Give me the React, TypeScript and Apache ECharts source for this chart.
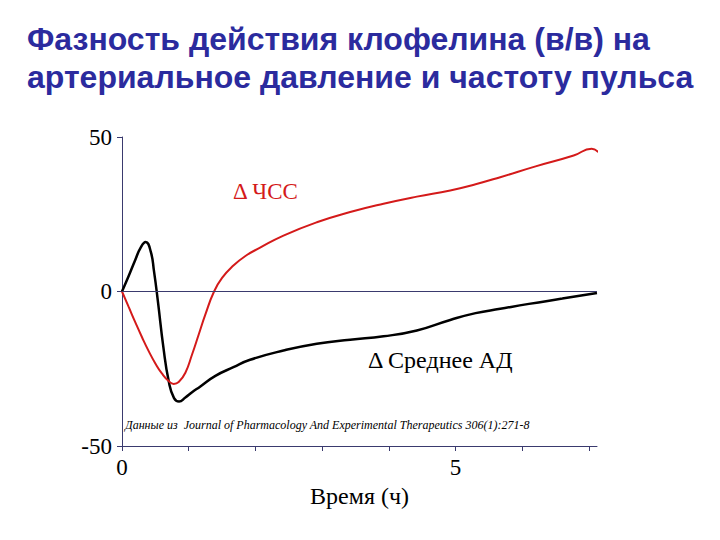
import React, { useEffect, useRef } from "react";
import * as echarts from "echarts";

const titleLines = [
  "Фазность действия клофелина (в/в) на",
  "артериальное давление и частоту пульса",
];

// Δ ЧСС (heart rate)
const hrHours = [0, 0.1, 0.2, 0.3, 0.4, 0.5, 0.6, 0.7, 0.775, 0.85, 0.95, 1.05, 1.15, 1.25, 1.38, 1.5, 1.67, 1.85, 2.07, 2.42, 2.92, 3.42, 3.92, 4.42, 4.92, 5.3, 5.67, 6.2, 6.77, 7.04, 7.14];
const hrValues = [0, -5.0, -10.0, -14.8, -19.3, -23.3, -26.6, -29.0, -29.9, -29.3, -26.3, -20.4, -13.9, -7.4, 0, 4.4, 8.4, 11.5, 14.2, 18.1, 22.4, 25.7, 28.4, 30.7, 32.7, 34.7, 37.0, 40.5, 44.0, 46.2, 45.1];

// Δ Среднее АД (mean arterial pressure)
const mapHours = [0, 0.1, 0.2, 0.28, 0.355, 0.43, 0.48, 0.54, 0.62, 0.7, 0.78, 0.855, 0.95, 1.05, 1.17, 1.4, 1.67, 1.92, 2.42, 2.92, 3.42, 3.92, 4.42, 4.92, 5.3, 5.67, 6.1, 6.6, 7.12];
const mapValues = [0, 5.0, 10.3, 14.2, 16.0, 13.0, 6.5, -3.5, -18.0, -29.0, -34.5, -35.6, -34.3, -32.6, -30.8, -27.3, -24.5, -22.1, -19.1, -16.9, -15.6, -14.5, -12.6, -9.2, -7.0, -5.6, -4.0, -2.3, -0.5];

const xLabelsShown = [0, 5];
const yTicks = { min: -50, max: 50, interval: 50 };
const xRange = { min: 0, max: 7.12, interval: 1 };

const hrLabel = "Δ ЧСС";
const mapLabel = "Δ Среднее АД";
const sourceNote = "Данные из  Journal of Pharmacology And Experimental Therapeutics 306(1):271-8";
const xName = "Время (ч)";

const AXIS_COLOR = "#3A3A6E";
const SERIF = "'Liberation Serif', 'Times New Roman', serif";

export default function App() {
  const ref = useRef<HTMLDivElement>(null);
  useEffect(() => {
    if (!ref.current) return;
    const chart = echarts.init(ref.current, undefined, { renderer: "svg" });
    const pairs = (xs: number[], ys: number[]) => xs.map((x, i) => [x, ys[i]]);
    chart.setOption({
      animation: false,
      backgroundColor: "#ffffff",
      title: {
        text: titleLines.join("\n"),
        left: 22,
        top: 15,
        textStyle: {
          fontFamily: "'Liberation Sans', Arial, sans-serif",
          fontWeight: "bold",
          fontSize: 32,
          lineHeight: 38,
          color: "#2B2B9E",
        },
      },
      grid: { left: 122, right: 123, top: 137, bottom: 94, containLabel: false },
      xAxis: {
        type: "value",
        min: xRange.min,
        max: xRange.max,
        interval: xRange.interval,
        name: xName,
        nameLocation: "middle",
        nameGap: 36,
        nameTextStyle: { fontFamily: SERIF, fontSize: 24, color: "#000" },
        axisLine: { onZero: false, lineStyle: { color: AXIS_COLOR, width: 1 } },
        axisTick: { show: true, length: 5, lineStyle: { color: AXIS_COLOR } },
        axisLabel: {
          fontFamily: SERIF,
          fontSize: 23,
          color: "#000",
          margin: 10,
          showMaxLabel: false,
          formatter: (v: number) => (xLabelsShown.includes(v) ? String(v) : ""),
        },
        splitLine: { show: false },
      },
      yAxis: {
        type: "value",
        min: yTicks.min,
        max: yTicks.max,
        interval: yTicks.interval,
        axisLine: { show: true, onZero: false, lineStyle: { color: AXIS_COLOR, width: 1 } },
        axisTick: { show: true, length: 5, lineStyle: { color: AXIS_COLOR } },
        axisLabel: { fontFamily: SERIF, fontSize: 23, color: "#000", margin: 10 },
        splitLine: { show: false },
      },
      series: [
        {
          name: "Δ ЧСС",
          type: "line",
          data: pairs(hrHours, hrValues),
          smooth: 0.5,
          symbol: "none",
          lineStyle: { color: "#D41A1A", width: 2 },
          markLine: {
            silent: true,
            symbol: "none",
            label: { show: false },
            lineStyle: { color: AXIS_COLOR, width: 1, type: "solid" },
            data: [{ yAxis: 0 }],
          },
          z: 3,
        },
        {
          name: "Δ Среднее АД",
          type: "line",
          data: pairs(mapHours, mapValues),
          smooth: 0.5,
          symbol: "none",
          lineStyle: { color: "#000000", width: 2.5 },
          z: 2,
        },
      ],
      graphic: [
        {
          type: "text",
          left: 233,
          top: 180,
          style: { text: hrLabel, fontFamily: SERIF, fontSize: 23, fill: "#D41A1A" },
        },
        {
          type: "text",
          left: 368,
          top: 348,
          style: { text: mapLabel, fontFamily: SERIF, fontSize: 24, fill: "#000" },
        },
        {
          type: "text",
          left: 125,
          top: 419,
          style: { text: sourceNote, fontFamily: SERIF, fontStyle: "italic", fontSize: 12, fill: "#000" },
        },
      ],
    });
    return () => chart.dispose();
  }, []);
  return (
    <div
      ref={ref}
      style={{ position: "absolute", left: 0, top: 0, width: 720, height: 540 }}
    />
  );
}
